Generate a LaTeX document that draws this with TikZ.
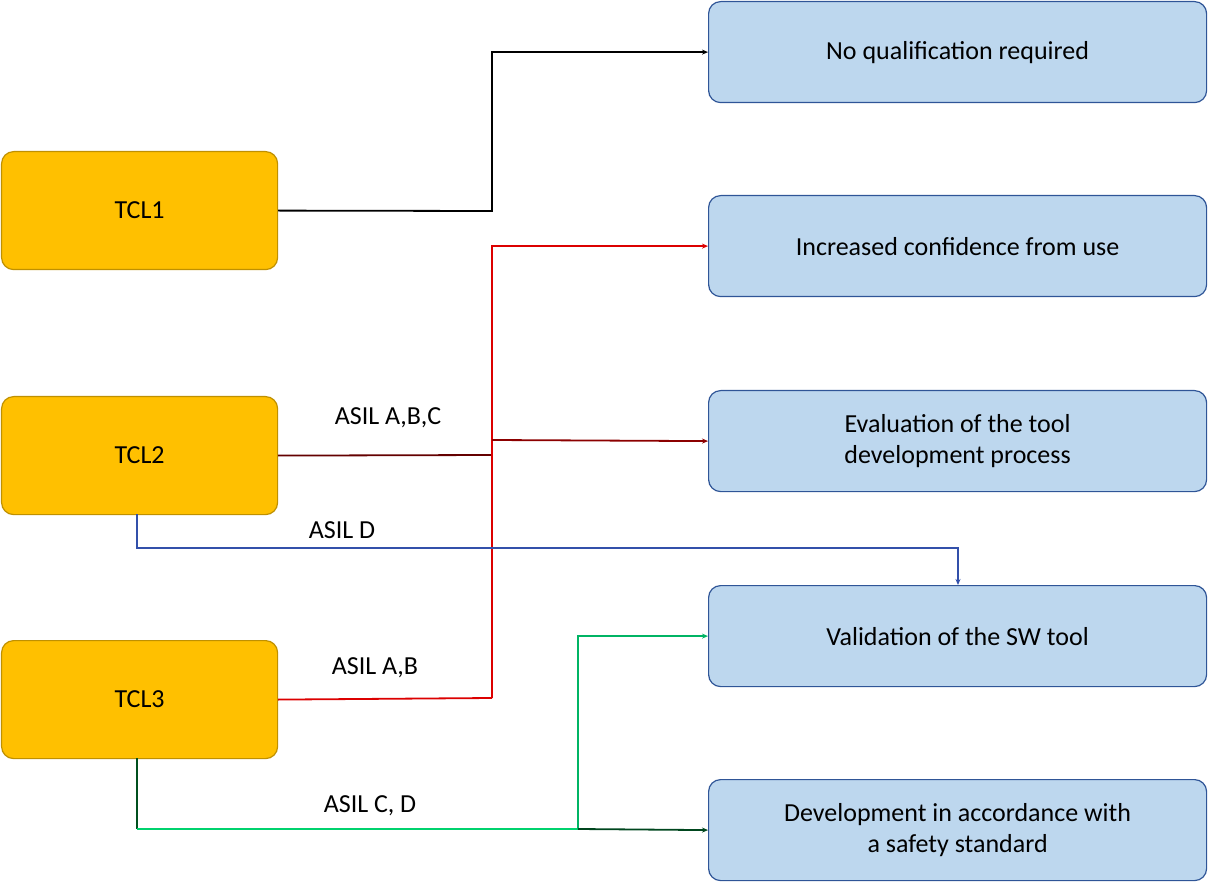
\documentclass[tikz,border=0pt]{standalone}
\usepackage{fontspec}
\setmainfont{Carlito}
\usetikzlibrary{arrows.meta}
\definecolor{ofill}{RGB}{255,192,0}
\definecolor{oline}{RGB}{191,144,0}
\definecolor{bfill}{RGB}{189,215,238}
\definecolor{bline}{RGB}{47,85,151}
\definecolor{dred}{RGB}{100,0,0}
\definecolor{mred}{RGB}{220,0,0}
\definecolor{rred}{RGB}{140,0,0}
\definecolor{blu}{RGB}{50,80,170}
\definecolor{dgr}{RGB}{0,80,30}
\definecolor{lgr}{RGB}{0,210,110}
\definecolor{mgr}{RGB}{0,180,100}
\definecolor{ddgr}{RGB}{0,70,30}
\begin{document}
\begin{tikzpicture}[x=1pt,y=-1pt,
 lb/.style={draw=oline,fill=ofill,rounded corners=12pt,line width=1.2pt,minimum width=276pt,minimum height=118pt,anchor=north west,font=\fontsize{26}{31}\selectfont},
 rb/.style={draw=bline,fill=bfill,rounded corners=12pt,line width=1.2pt,minimum width=498pt,minimum height=101pt,anchor=north west,align=center,font=\fontsize{26}{31}\selectfont},
 ln/.style={line width=1.8pt},
 ar/.style={ln,-{Stealth[length=6pt,width=5pt]}},
 lab/.style={font=\fontsize{26}{31}\selectfont}]
\useasboundingbox (0,0) rectangle (1208,890);
\node[lb] (t1) at (1,151) {TCL1};
\node[lb] (t2) at (1,396) {TCL2};
\node[lb] (t3) at (1,640) {TCL3};
\node[rb] (r1) at (708,1) {No qualification required};
\node[rb] (r2) at (708,195) {Increased confidence from use};
\node[rb] (r3) at (708,390) {Evaluation of the tool\\development process};
\node[rb] (r4) at (708,585) {Validation of the SW tool};
\node[rb] (r5) at (708,779) {Development in accordance with\\a safety standard};
\coordinate (j1) at (492,211);
\coordinate (j2) at (492,455);
\coordinate (j3) at (492,698);
\coordinate (jb) at (492,440);
\coordinate (g1) at (578,829);
\coordinate (b1) at (137,514);
\coordinate (b2) at (137,758);
\coordinate (b3) at (958,585);
\draw[ar,black] (t1.east) -- (j1) |- (r1.west);
\draw[ln,dred] (t2.east) -- (j2);
\draw[ar,mred] (j3) -- (j2) |- (r2.west);
\draw[ln,mred] (t3.east) -- (j3);
\draw[ar,rred] (jb) -- (r3.west);
\draw[ar,blu] (b1) -- (137,548) -| (b3);
\draw[ln,dgr] (b2) -- (137,829);
\draw[ln,lgr] (137,829) -- (g1);
\draw[ar,mgr] (g1) |- (r4.west);
\draw[ar,ddgr] (g1) -- (r5.west);
\node[lab] (l1) at (388,418) {ASIL A,B,C};
\node[lab] (l2) at (342,530) {ASIL D};
\node[lab] (l3) at (375,668) {ASIL A,B};
\node[lab] (l4) at (370,806) {ASIL C, D};
\end{tikzpicture}
\end{document}
